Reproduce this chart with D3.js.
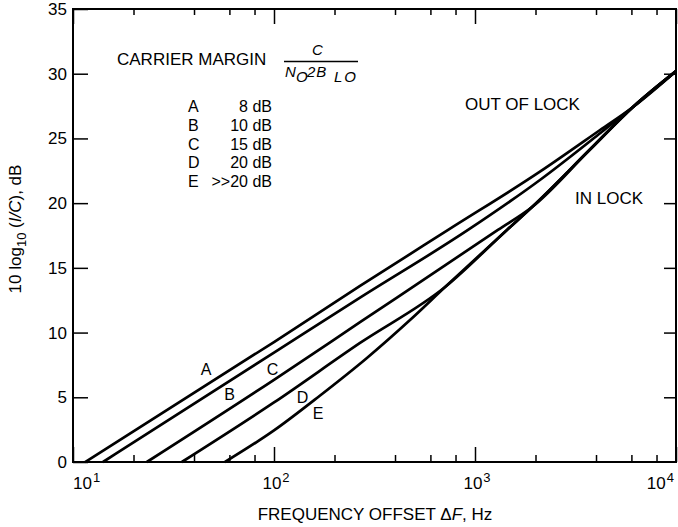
<!DOCTYPE html>
<html>
<head>
<meta charset="utf-8">
<script src="https://cdn.jsdelivr.net/npm/d3@7"></script>
<style>
  body { margin: 0; background: #fff; }
  svg { display: block; font-family: 'Liberation Sans', Arial, sans-serif; }
</style>
</head>
<body>
<div id="chart"></div>
<script>
// Axis ticks
const decades = [10, 100, 1000, 10000];
const minorTicks = [20, 40, 60, 80, 200, 400, 600, 800, 2000, 4000, 6000, 8000];
const yTicks = [0, 5, 10, 15, 20, 25, 30, 35];

// Curves: frequency offset (Hz) and 10 log10(I/C) (dB)
const freqA = [11.5, 100, 268, 735, 2104, 4190, 6110, 10000];
const dbA = [0, 9.27, 13.6, 17.93, 22.43, 25.65, 27.43, 30.2];
const freqB = [14.1, 100, 268, 923, 2104, 4190, 6110, 10000];
const dbB = [0, 8.45, 12.7, 17.93, 21.79, 25.4, 27.43, 30.2];
const freqC = [23.3, 100, 268, 1300, 1923, 3733, 6110, 10000];
const dbC = [0, 6.35, 10.8, 17.93, 19.7, 24.14, 27.43, 30.2];
const freqD = [34.8, 100, 268, 710, 1442, 1923, 3733, 6110, 10000];
const dbD = [0, 4.6, 9.2, 13.52, 17.93, 19.7, 24.14, 27.43, 30.2];
const freqE = [57, 100, 169, 287, 475, 710, 1442, 1923, 3733, 6110, 10000];
const dbE = [0, 2.44, 5.12, 7.98, 10.97, 13.52, 17.93, 19.7, 24.14, 27.43, 30.2];

// Legend
const curveNames = ['A', 'B', 'C', 'D', 'E'];
const marginValues = ['8 dB', '10 dB', '15 dB', '20 dB', '>>20 dB'];

const width = 678;
const height = 527;

const svg = d3.select('#chart').append('svg')
    .attr('width', width)
    .attr('height', height);

const x = d3.scaleLog()
    .domain([10, 10000])
    .range([73, 676]);
const y = d3.scaleLinear()
    .domain([0, 35])
    .range([462, 9]);

const noDomain = g => g.select('.domain').remove();
const tickStyle = g => g.selectAll('.tick line')
    .attr('stroke', '#000')
    .attr('stroke-width', 1.5);

// Inward ticks on all four sides
svg.append('g')
    .attr('transform', `translate(0,${y(0)})`)
    .call(d3.axisBottom(x).tickValues(decades).tickSize(-15).tickFormat(''))
    .call(noDomain).call(tickStyle);
svg.append('g')
    .attr('transform', `translate(0,${y(0)})`)
    .call(d3.axisBottom(x).tickValues(minorTicks).tickSize(-7).tickFormat(''))
    .call(noDomain).call(tickStyle);
svg.append('g')
    .attr('transform', `translate(0,${y(35)})`)
    .call(d3.axisTop(x).tickValues(decades).tickSize(-15).tickFormat(''))
    .call(noDomain).call(tickStyle);
svg.append('g')
    .attr('transform', `translate(0,${y(35)})`)
    .call(d3.axisTop(x).tickValues(minorTicks).tickSize(-6).tickFormat(''))
    .call(noDomain).call(tickStyle);

svg.append('g')
    .attr('transform', `translate(${x(10)},0)`)
    .call(d3.axisLeft(y).tickValues(yTicks).tickSize(-15).tickPadding(6))
    .call(noDomain).call(tickStyle)
    .call(g => g.selectAll('text')
        .attr('fill', '#000')
        .style('font-size', '17px')
        .style('font-family', "'Liberation Sans', Arial, sans-serif"));
svg.append('g')
    .attr('transform', `translate(${x(10000)},0)`)
    .call(d3.axisRight(y).tickValues(yTicks.slice(1, -1)).tickSize(-12).tickFormat(''))
    .call(noDomain).call(tickStyle);

// Frame
svg.append('rect')
    .attr('x', x(10))
    .attr('y', y(35))
    .attr('width', x(10000) - x(10))
    .attr('height', y(0) - y(35))
    .attr('fill', 'none')
    .attr('stroke', '#000')
    .attr('stroke-width', 2);

// Decade labels as powers of ten
const xLabels = svg.append('g')
    .selectAll('text')
    .data(decades)
  .enter().append('text')
    .attr('x', (d, i) => {
      if (i === 0) return x(d);
      if (i === decades.length - 1) return x(d) - 2;
      return x(d) + 2;
    })
    .attr('y', 489)
    .attr('text-anchor', (d, i) => {
      if (i === 0) return 'start';
      return i === decades.length - 1 ? 'end' : 'middle';
    })
    .style('font-size', '17px');
xLabels.append('tspan').text('10');
xLabels.append('tspan')
    .attr('dy', -7)
    .attr('dx', 1)
    .style('font-size', '13px')
    .text(d => Math.round(Math.log10(d)));

// Axis titles
const xTitle = svg.append('text')
    .attr('x', 375)
    .attr('y', 520)
    .attr('text-anchor', 'middle')
    .style('font-size', '17px');
xTitle.append('tspan').text('FREQUENCY OFFSET \u0394');
xTitle.append('tspan').style('font-style', 'italic').text('F');
xTitle.append('tspan').text(', Hz');

const yTitle = svg.append('text')
    .attr('transform', 'translate(21,229) rotate(-90)')
    .attr('text-anchor', 'middle')
    .style('font-size', '17px');
yTitle.append('tspan').text('10 log');
yTitle.append('tspan').attr('dy', 5).style('font-size', '13px').text('10');
yTitle.append('tspan').attr('dy', -5).text(' (');
yTitle.append('tspan').style('font-style', 'italic').text('I/C');
yTitle.append('tspan').text('), dB');

// Curves
const series = [
  { name: 'A', f: freqA, db: dbA },
  { name: 'B', f: freqB, db: dbB },
  { name: 'C', f: freqC, db: dbC },
  { name: 'D', f: freqD, db: dbD },
  { name: 'E', f: freqE, db: dbE },
];

const line = d3.line()
    .x(d => x(d[0]))
    .y(d => y(d[1]))
    .curve(d3.curveMonotoneX);

svg.append('g')
    .selectAll('path')
    .data(series)
  .enter().append('path')
    .attr('d', s => line(s.f.map((f, i) => [f, s.db[i]])))
    .attr('fill', 'none')
    .attr('stroke', '#000')
    .attr('stroke-width', 2.7)
    .attr('stroke-linejoin', 'round');

// Curve letters next to the lines
const letterPos = [[206, 375], [229.5, 400], [272.5, 375], [302.5, 403], [318, 419]];
svg.append('g')
    .selectAll('text')
    .data(curveNames)
  .enter().append('text')
    .attr('x', (d, i) => letterPos[i][0])
    .attr('y', (d, i) => letterPos[i][1])
    .attr('text-anchor', 'middle')
    .style('font-size', '16px')
    .text(d => d);

// Carrier margin annotation
svg.append('text')
    .attr('x', 117)
    .attr('y', 65)
    .style('font-size', '17px')
    .text('CARRIER MARGIN');
svg.append('text')
    .attr('x', 312)
    .attr('y', 55)
    .style('font-size', '15px')
    .style('font-style', 'italic')
    .text('C');
svg.append('line')
    .attr('x1', 284)
    .attr('x2', 358)
    .attr('y1', 61.5)
    .attr('y2', 61.5)
    .attr('stroke', '#000')
    .attr('stroke-width', 1.3);
const denom = svg.append('text')
    .attr('y', 77)
    .style('font-size', '15px')
    .style('font-style', 'italic');
denom.append('tspan').attr('x', 285).text('N');
denom.append('tspan').attr('x', 296).attr('dy', 5).text('O');
denom.append('tspan').attr('x', 307).attr('dy', -5).attr('letter-spacing', 1).text('2B');
denom.append('tspan').attr('x', 334).attr('dy', 5).attr('letter-spacing', 2).text('LO');

const legend = svg.append('g')
    .selectAll('g')
    .data(curveNames)
  .enter().append('g')
    .attr('transform', (d, i) => `translate(0,${112 + i * 18.75})`)
    .style('font-size', '16px');
legend.append('text')
    .attr('x', 188)
    .text(d => d);
legend.append('text')
    .attr('x', 272)
    .attr('text-anchor', 'end')
    .text((d, i) => marginValues[i]);

// Region labels
svg.append('text')
    .attr('x', 465)
    .attr('y', 110)
    .style('font-size', '17px')
    .text('OUT OF LOCK');
svg.append('text')
    .attr('x', 575)
    .attr('y', 204)
    .style('font-size', '17px')
    .text('IN LOCK');
</script>
</body>
</html>
